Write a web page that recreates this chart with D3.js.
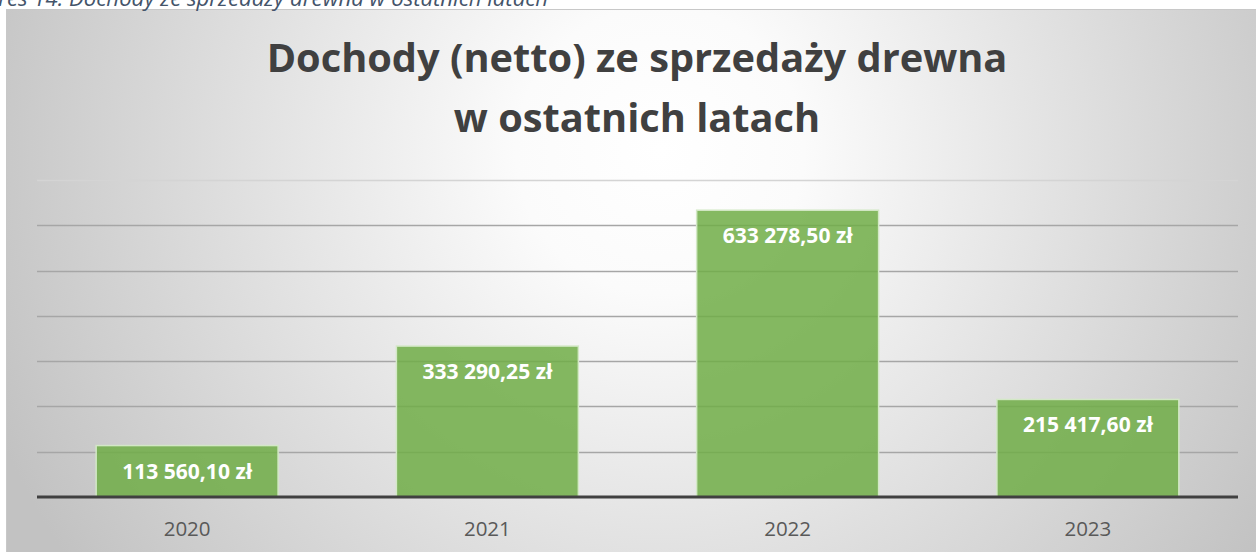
<!DOCTYPE html>
<html>
<head>
<meta charset="utf-8">
<script src="https://cdnjs.cloudflare.com/ajax/libs/d3/7.8.5/d3.min.js"></script>
<style>
  body { margin: 0; background: #fff; }
  svg { display: block; }
</style>
</head>
<body>
<script>
var years = ["2020", "2021", "2022", "2023"];
var incomes = [113560.10, 333290.25, 633278.50, 215417.60];
var labels = ["113 560,10 zł", "333 290,25 zł", "633 278,50 zł", "215 417,60 zł"];
var yTicks = [0, 100000, 200000, 300000, 400000, 500000, 600000, 700000];
var titleLines = ["Dochody (netto) ze sprzedaży drewna", "w ostatnich latach"];
var caption = "Wykres 14. Dochody ze sprzedaży drewna w ostatnich latach";

var w = 1256;
var h = 552;
var font = "'Open Sans', 'DejaVu Sans', sans-serif";

var svg = d3.select("body")
            .append("svg")
            .attr("width", w)
            .attr("height", h);

var grad = svg.append("defs")
  .append("radialGradient")
  .attr("id", "bg")
  .attr("gradientUnits", "userSpaceOnUse")
  .attr("cx", 660).attr("cy", 150).attr("r", 720);
grad.append("stop").attr("offset", "0").attr("stop-color", "#ffffff");
grad.append("stop").attr("offset", "0.2").attr("stop-color", "#fbfbfb");
grad.append("stop").attr("offset", "1").attr("stop-color", "#c2c2c2");

// chart area
svg.append("rect")
  .attr("x", 6.5).attr("y", 9.5)
  .attr("width", 1270).attr("height", 560)
  .attr("fill", "url(#bg)")
  .attr("stroke", "#c8c8c8");

function fitSize(text, weight, target, style) {
  var t = svg.append("text")
    .attr("font-family", font)
    .attr("font-weight", weight)
    .attr("font-style", style || "normal")
    .attr("font-size", 100)
    .text(text);
  var len = t.node().getComputedTextLength();
  t.remove();
  return 100 * target / len;
}

// caption cut at the top of the page (only its lower part shows)
svg.append("text")
  .attr("x", 548).attr("y", 5.5)
  .attr("text-anchor", "end")
  .attr("font-family", font)
  .attr("font-style", "italic")
  .attr("font-size", fitSize(caption, "normal", 590, "italic"))
  .attr("fill", "#44546a")
  .text(caption);

var x = d3.scaleBand()
  .domain(years)
  .range([37, 1238])
  .paddingInner(0.394)
  .paddingOuter(0.197);

var y = d3.scaleLinear()
  .domain([0, 700000])
  .range([497, 180]);

// gridlines
svg.append("g")
  .selectAll("line")
  .data(yTicks.slice(1))
  .enter()
  .append("line")
  .attr("x1", 37)
  .attr("x2", 1238)
  .attr("y1", function(d) { return Math.round(y(d)) + 0.5; })
  .attr("y2", function(d) { return Math.round(y(d)) + 0.5; })
  .attr("stroke", function(d) { return d === 700000 ? "#d4d4d4" : "#a6a6a6"; })
  .attr("stroke-width", 1.5);

// bars
svg.append("g")
  .selectAll("rect")
  .data(incomes)
  .enter()
  .append("rect")
  .attr("x", function(d, i) { return x(years[i]); })
  .attr("y", function(d) { return y(d); })
  .attr("width", x.bandwidth())
  .attr("height", function(d) { return y(0) - y(d); })
  .attr("fill", "#70ad47")
  .attr("fill-opacity", 0.85)
  .attr("stroke", "#d3e8c6")
  .attr("stroke-width", 1.5);

// baseline
svg.append("line")
  .attr("x1", 37).attr("x2", 1238)
  .attr("y1", y(0)).attr("y2", y(0))
  .attr("stroke", "#404040")
  .attr("stroke-width", 3);

// value labels
var labelSize = fitSize(labels[0], "bold", 130);
svg.append("g")
  .selectAll("text")
  .data(incomes)
  .enter()
  .append("text")
  .attr("x", function(d, i) { return x(years[i]) + x.bandwidth() / 2; })
  .attr("y", function(d) { return y(d) + 33; })
  .attr("text-anchor", "middle")
  .attr("font-family", font)
  .attr("font-weight", "bold")
  .attr("font-size", labelSize)
  .attr("fill", "#ffffff")
  .text(function(d, i) { return labels[i]; });

// category axis
var xAxis = svg.append("g")
  .attr("transform", "translate(0," + y(0) + ")")
  .call(d3.axisBottom(x).tickSize(0).tickPadding(0));
xAxis.select(".domain").remove();
xAxis.selectAll("text")
  .attr("dy", 39)
  .attr("font-family", font)
  .attr("font-size", fitSize("2020", "normal", 47))
  .attr("fill", "#595959");

// title
var titleSize = fitSize(titleLines[0], "bold", 741);
svg.append("g")
  .selectAll("text")
  .data(titleLines)
  .enter()
  .append("text")
  .attr("x", 637)
  .attr("y", function(d, i) { return 72 + i * 60; })
  .attr("text-anchor", "middle")
  .attr("font-family", font)
  .attr("font-weight", "bold")
  .attr("font-size", titleSize)
  .attr("fill", "#404040")
  .text(function(d) { return d; });
</script>
</body>
</html>
